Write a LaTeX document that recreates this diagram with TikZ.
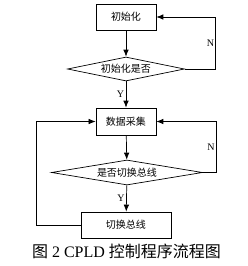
\documentclass[tikz,border=0pt]{standalone}
\usepackage{fontspec}
\setmainfont{Liberation Serif}
\newfontfamily\cjk{Noto Sans CJK SC}
\usetikzlibrary{shapes.geometric,arrows.meta}

\begin{document}
\begin{tikzpicture}[x=1pt,y=-1pt,line width=0.7pt,
  box/.style={draw,rectangle,inner sep=0pt,font=\cjk\fontsize{10}{12}\selectfont},
  decision/.style={draw,diamond,inner sep=0pt,font=\cjk\fontsize{10}{12}\selectfont},
  arr/.style={-{Latex[length=7pt,width=5.5pt]}},
  lbl/.style={inner sep=1.5pt,font=\fontsize{10}{12}\selectfont}]
  \useasboundingbox (0,0) rectangle (248,266);
  \node[box,minimum width=60pt,minimum height=26pt] (init) at (126,17) {初始化};
  \node[decision,minimum width=117pt,minimum height=24pt,aspect=4.9] (initok) at (126,69) {初始化是否};
  \node[box,minimum width=60pt,minimum height=27pt] (acq) at (126,121.5) {数据采集};
  \node[decision,minimum width=151pt,minimum height=25pt,aspect=6] (sw) at (127,172.5) {是否切换总线};
  \node[box,minimum width=90pt,minimum height=26pt] (swbus) at (126,225) {切换总线};
  \node[font=\fontsize{16}{18}\selectfont] (cap) at (126.5,251) {{\cjk 图} 2 CPLD {\cjk 控制程序流程图}};
  \draw[arr] (init) -- (initok);
  \draw[arr] (initok) -- node[lbl,left] {Y} (acq);
  \draw[arr] (initok.east) -- ++(31,0) |- node[lbl,left,pos=0.25] {N} (init.east);
  \draw[arr] (acq) -- (sw);
  \draw[arr] (sw) -- node[lbl,left] {Y} (swbus);
  \draw[arr] (sw.east) -- ++(13.5,0) |- node[lbl,left,pos=0.25] {N} (acq.east);
  \draw[arr] (swbus.west) -- ++(-44,0) |- (acq.west);
\end{tikzpicture}
\end{document}
